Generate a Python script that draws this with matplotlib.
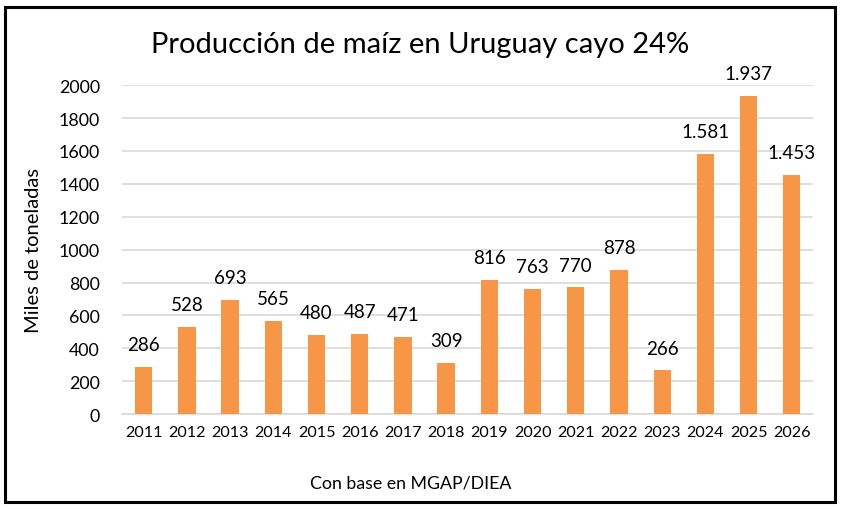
import numpy as np
import matplotlib.pyplot as plt
from matplotlib.patches import Rectangle

years = ["2011", "2012", "2013", "2014", "2015", "2016", "2017", "2018",
         "2019", "2020", "2021", "2022", "2023", "2024", "2025", "2026"]
production = [286, 528, 693, 565, 480, 487, 471, 309,
              816, 763, 770, 878, 266, 1581, 1937, 1453]
labels = ["286", "528", "693", "565", "480", "487", "471", "309",
          "816", "763", "770", "878", "266", "1.581", "1.937", "1.453"]

plt.rcParams['font.family'] = ['Lato', 'DejaVu Sans']

fig = plt.figure(figsize=(8.42, 5.1), dpi=100)
ax = fig.add_axes([0.145, 0.186, 0.821, 0.645])

x = np.arange(len(years))
ax.bar(x, production, width=0.4, color="#F79646", zorder=3)

for xi, v, lab in zip(x, production, labels):
    ax.annotate(lab, (xi, v), xytext=(0, 10), textcoords="offset points",
                ha="center", va="bottom", fontsize=13.5, color="black",
                annotation_clip=False)

ax.set_ylim(0, 2000)
ax.set_xlim(-0.5, len(years) - 0.5)
ax.set_yticks(range(0, 2001, 200))
ax.set_xticks(x)
ax.set_xticklabels(years, fontsize=11.6)
ax.tick_params(axis="y", labelsize=12.8, length=0, pad=16)
ax.tick_params(axis="x", length=0, pad=8)
ax.grid(axis="y", color="#D9D9D9", linewidth=1.2, zorder=0)
for s in ["top", "right", "left"]:
    ax.spines[s].set_visible(False)
ax.spines["bottom"].set_color("#D9D9D9")
ax.spines["bottom"].set_linewidth(1.2)

ax.set_ylabel("Miles de toneladas", fontsize=14.5, labelpad=12)

fig.text(0.499, 0.912, "Producción de maíz en Uruguay cayo 24%",
         ha="center", va="center", fontsize=21)
fig.text(0.488, 0.051, "Con base en MGAP/DIEA", ha="center", va="center",
         fontsize=12.8)

fig.patches.append(Rectangle((0.006, 0.014), 0.986, 0.97, transform=fig.transFigure,
                             fill=False, edgecolor="black", linewidth=2.2))

fig.savefig("out.png", dpi=100)
